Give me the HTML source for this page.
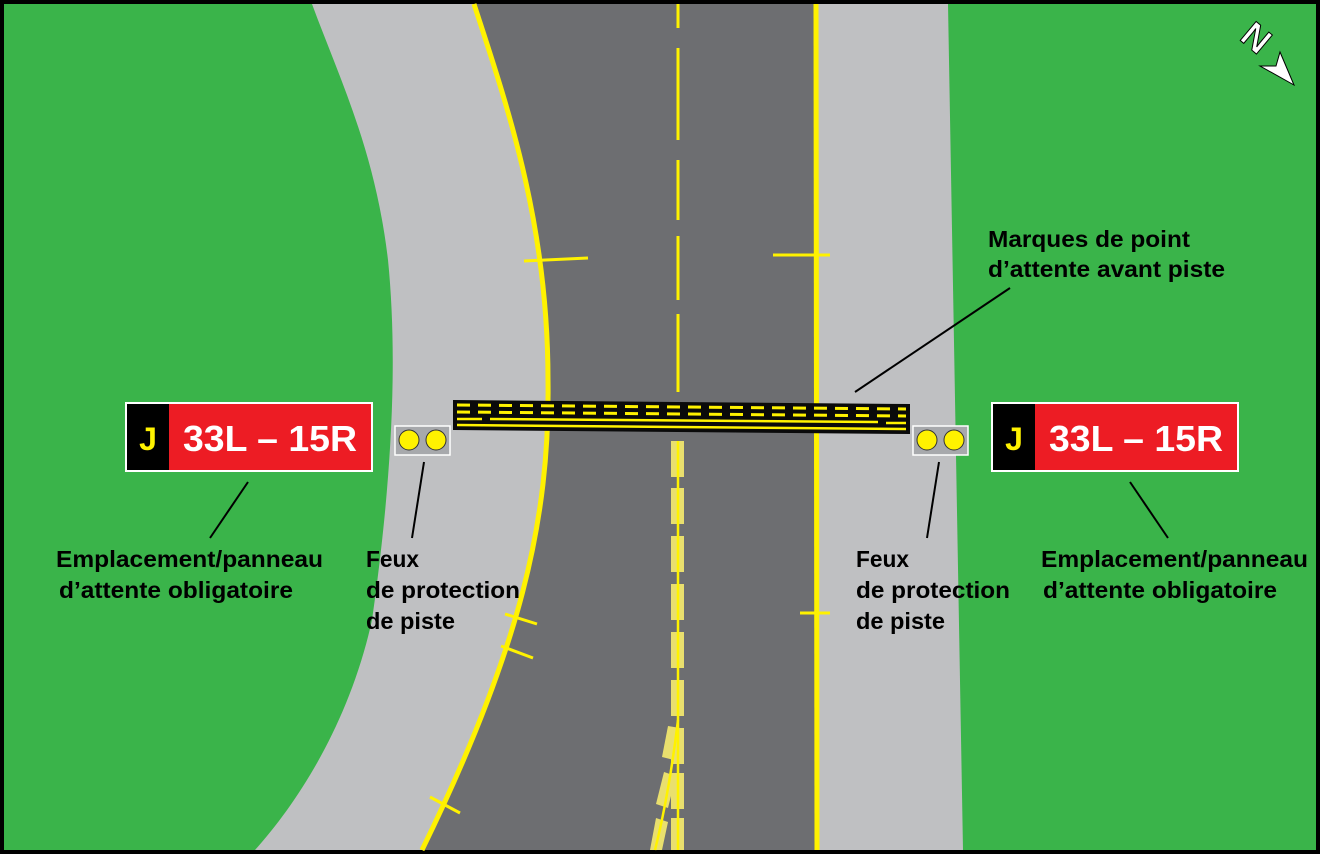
<!DOCTYPE html>
<html><head><meta charset="utf-8"><style>
html,body{margin:0;padding:0;background:#000}
svg{display:block}
text{font-family:"Liberation Sans",sans-serif;font-weight:bold}
</style></head><body>
<svg width="1320" height="854" viewBox="0 0 1320 854" xmlns="http://www.w3.org/2000/svg">
<rect width="1320" height="854" fill="#000"/>
<rect x="4" y="4" width="1312" height="846" fill="#3ab44a"/>
<path d="M312,4 C340,80 375,150 388,260 C398,360 392,480 372,620 C350,720 300,800 255,850 L700,850 L700,4 Z" fill="#bfc0c2"/>
<path d="M800,4 L948,4 L963,850 L800,850 Z" fill="#bfc0c2"/>
<path d="M474,4 C505,100 548,220 548,380 C550,520 520,650 422,850 L816,850 L816,4 Z" fill="#6d6e71"/>
<path d="M474,4 C505,100 548,220 548,380 C550,520 520,650 422,850" fill="none" stroke="#fff200" stroke-width="5"/>
<line x1="816" y1="4" x2="817" y2="850" stroke="#fff200" stroke-width="5"/>
<g stroke="#fff200" stroke-width="3">
<line x1="524" y1="261" x2="588" y2="258"/>
<line x1="773" y1="255" x2="830" y2="255"/>
<line x1="505" y1="614" x2="537" y2="624"/>
<line x1="501" y1="646" x2="533" y2="658"/>
<line x1="430" y1="797" x2="460" y2="813"/>
<line x1="800" y1="613" x2="830" y2="613"/>
</g>
<g stroke="#fff200" stroke-width="3">
<line x1="678" y1="4" x2="678" y2="28"/>
<line x1="678" y1="48" x2="678" y2="140"/>
<line x1="678" y1="160" x2="678" y2="220"/>
<line x1="678" y1="236" x2="678" y2="300"/>
<line x1="678" y1="314" x2="678" y2="392"/>
</g>
<g fill="#e9df6e">
<rect x="671" y="441" width="13" height="36"/>
<rect x="671" y="488" width="13" height="36"/>
<rect x="671" y="536" width="13" height="36"/>
<rect x="671" y="584" width="13" height="36"/>
<rect x="671" y="632" width="13" height="36"/>
<rect x="671" y="680" width="13" height="36"/>
<rect x="671" y="728" width="13" height="36"/>
<rect x="671" y="773" width="13" height="36"/>
<rect x="671" y="818" width="13" height="32"/>
<polygon points="668,726 680,728 674,760 662,757"/>
<polygon points="664,772 676,776 668,808 656,804"/>
<polygon points="656,818 668,822 662,850 650,850"/>
</g>
<line x1="678" y1="441" x2="678" y2="850" stroke="#fff200" stroke-width="2.5"/>
<path d="M678,720 C672,770 665,810 655,850" fill="none" stroke="#fff200" stroke-width="2.5"/>
<polygon points="453,400 910,404 910,434 453,430" fill="#0a0a0a"/>
<g stroke="#fff200" stroke-width="3" stroke-dasharray="13,8">
<line x1="457" y1="405" x2="906" y2="409"/>
<line x1="457" y1="412" x2="906" y2="416"/>
</g>
<g stroke="#fff200" stroke-width="2.5">
<line x1="457" y1="419" x2="482" y2="419"/>
<line x1="490" y1="419" x2="878" y2="422"/>
<line x1="886" y1="423" x2="906" y2="423"/>
<line x1="457" y1="425" x2="906" y2="429"/>
</g>
<g>
<rect x="395" y="426" width="55" height="29" fill="#a7a9ac" stroke="#fff" stroke-width="1.5"/>
<circle cx="409" cy="440" r="10" fill="#fff200" stroke="#333" stroke-width="1"/>
<circle cx="436" cy="440" r="10" fill="#fff200" stroke="#333" stroke-width="1"/>
<rect x="913" y="426" width="55" height="29" fill="#a7a9ac" stroke="#fff" stroke-width="1.5"/>
<circle cx="927" cy="440" r="10" fill="#fff200" stroke="#333" stroke-width="1"/>
<circle cx="954" cy="440" r="10" fill="#fff200" stroke="#333" stroke-width="1"/>
</g>
<rect x="125" y="402" width="248" height="70" fill="#fff"/>
<rect x="127" y="404" width="42" height="66" fill="#000"/>
<rect x="169" y="404" width="202" height="66" fill="#ed1c24"/>
<text x="148" y="450" font-size="32" fill="#fff200" text-anchor="middle">J</text>
<text x="183" y="451" font-size="36" fill="#fff" textLength="174" lengthAdjust="spacingAndGlyphs">33L – 15R</text>
<rect x="991" y="402" width="248" height="70" fill="#fff"/>
<rect x="993" y="404" width="42" height="66" fill="#000"/>
<rect x="1035" y="404" width="202" height="66" fill="#ed1c24"/>
<text x="1014" y="450" font-size="32" fill="#fff200" text-anchor="middle">J</text>
<text x="1049" y="451" font-size="36" fill="#fff" textLength="174" lengthAdjust="spacingAndGlyphs">33L – 15R</text>
<g stroke="#000" stroke-width="2">
<line x1="248" y1="482" x2="210" y2="538"/>
<line x1="424" y1="462" x2="412" y2="538"/>
<line x1="939" y1="462" x2="927" y2="538"/>
<line x1="1130" y1="482" x2="1168" y2="538"/>
<line x1="1010" y1="288" x2="855" y2="392"/>
</g>
<g font-size="23" fill="#000">
<text x="56" y="567" textLength="267" lengthAdjust="spacingAndGlyphs">Emplacement/panneau</text>
<text x="59" y="598" textLength="234" lengthAdjust="spacingAndGlyphs">d’attente obligatoire</text>
<text x="366" y="567" textLength="53" lengthAdjust="spacingAndGlyphs">Feux</text>
<text x="366" y="598" textLength="154" lengthAdjust="spacingAndGlyphs">de protection</text>
<text x="366" y="629" textLength="89" lengthAdjust="spacingAndGlyphs">de piste</text>
<text x="856" y="567" textLength="53" lengthAdjust="spacingAndGlyphs">Feux</text>
<text x="856" y="598" textLength="154" lengthAdjust="spacingAndGlyphs">de protection</text>
<text x="856" y="629" textLength="89" lengthAdjust="spacingAndGlyphs">de piste</text>
<text x="1041" y="567" textLength="267" lengthAdjust="spacingAndGlyphs">Emplacement/panneau</text>
<text x="1043" y="598" textLength="234" lengthAdjust="spacingAndGlyphs">d’attente obligatoire</text>
<text x="988" y="247" textLength="202" lengthAdjust="spacingAndGlyphs">Marques de point</text>
<text x="988" y="277" textLength="237" lengthAdjust="spacingAndGlyphs">d’attente avant piste</text>
</g>
<text x="1256" y="50" font-size="36" font-family="Liberation Serif,serif" font-weight="normal" fill="#fff" stroke="#000" stroke-width="1" transform="rotate(40 1256 38)" text-anchor="middle">N</text>
<polygon points="1280,52 1294,85 1260,66 1276,66" fill="#fff" stroke="#000" stroke-width="1"/>
</svg>
</body></html>
